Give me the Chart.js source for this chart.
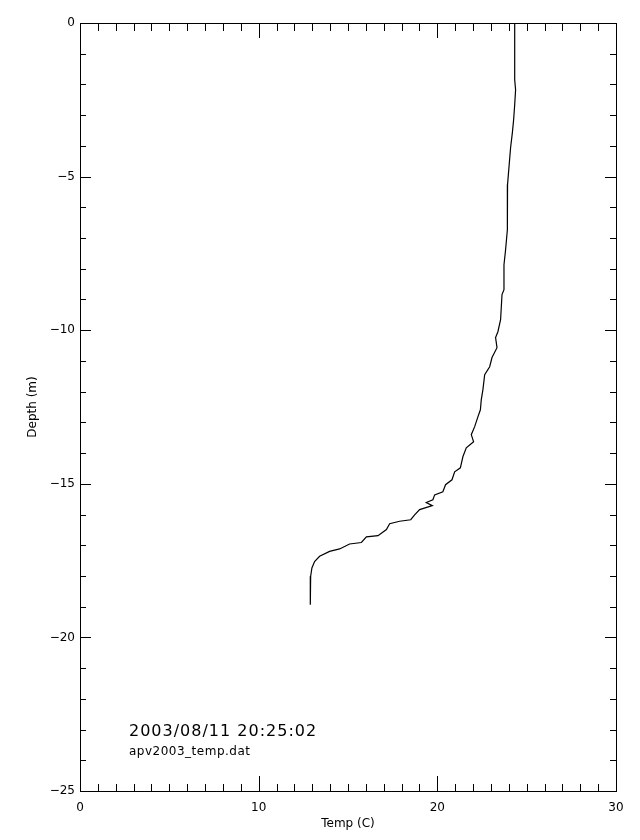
<!DOCTYPE html>
<html>
<head>
<meta charset="utf-8">
<script src="https://cdn.jsdelivr.net/npm/chart.js@4"></script>
<style>
  html, body { margin: 0; padding: 0; background: #fff; }
  canvas { display: block; }
</style>
</head>
<body>
<canvas id="chart" width="640" height="840"></canvas>
<script>
// temperature profile
const temps = [24.33, 24.33, 24.38, 24.33, 24.27, 24.20, 24.10, 24.03, 23.93, 23.92,
  23.92, 23.82, 23.73, 23.73, 23.62, 23.54, 23.39, 23.26, 23.34, 23.06,
  22.93, 22.65, 22.55, 22.46, 22.41, 22.27, 22.09, 21.90, 22.03, 21.62,
  21.43, 21.29, 20.97, 20.82, 20.46, 20.31, 19.85, 19.75, 19.38, 19.72,
  19.01, 18.73, 18.51, 17.89, 17.33, 17.15, 16.68, 16.03, 15.75, 15.09,
  14.53, 13.97, 13.41, 13.13, 12.98, 12.91, 12.89];
const depths = [0, -1.85, -2.17, -2.66, -3.15, -3.57, -4.06, -4.55, -5.26, -6.08,
  -6.73, -7.38, -7.87, -8.68, -8.84, -9.66, -10.05, -10.24, -10.57, -10.89,
  -11.19, -11.45, -11.94, -12.26, -12.59, -12.82, -13.14, -13.40, -13.63, -13.83,
  -14.12, -14.48, -14.61, -14.87, -15.03, -15.26, -15.36, -15.52, -15.61, -15.71,
  -15.84, -16.01, -16.17, -16.22, -16.30, -16.49, -16.69, -16.73, -16.91, -16.96,
  -17.12, -17.20, -17.36, -17.53, -17.74, -18.01, -18.94];

const xMajor = [0, 10, 20, 30];
const yMajor = [0, -5, -10, -15, -20, -25];
const stamp = '2003/08/11 20:25:02';
const fileName = 'apv2003_temp.dat';

const FONT = 'DejaVu Sans';

// box plus inward IDL-style ticks on all four sides
const frame = {
  id: 'frame',
  afterDraw(chart) {
    const { ctx, chartArea: a, scales: { x, y } } = chart;
    ctx.save();
    ctx.strokeStyle = '#000';
    ctx.lineWidth = 1;
    ctx.strokeRect(a.left + 0.5, a.top + 0.5, a.right - a.left, a.bottom - a.top);
    ctx.beginPath();
    for (let v = 0; v <= 30; v++) {
      const px = Math.round(x.getPixelForValue(v)) + 0.5;
      const bot = v % 10 === 0 ? 15 : 7;
      const top = v % 10 === 0 ? 15 : 8;
      ctx.moveTo(px, a.bottom); ctx.lineTo(px, a.bottom - bot);
      ctx.moveTo(px, a.top); ctx.lineTo(px, a.top + top);
    }
    for (let v = 0; v >= -25; v--) {
      const py = Math.round(y.getPixelForValue(v)) + 0.5;
      const len = v % 5 === 0 ? 11 : 6;
      ctx.moveTo(a.left, py); ctx.lineTo(a.left + len, py);
      ctx.moveTo(a.right, py); ctx.lineTo(a.right - len, py);
    }
    ctx.stroke();

    ctx.fillStyle = '#000';
    ctx.textBaseline = 'alphabetic';
    ctx.font = '16px ' + FONT;
    ctx.letterSpacing = '1px';
    ctx.fillText(stamp, a.left + 49, 736);
    ctx.font = '12px ' + FONT;
    ctx.letterSpacing = '0.5px';
    ctx.fillText(fileName, a.left + 49, 755);
    ctx.restore();
  }
};

new Chart(document.getElementById('chart'), {
  type: 'scatter',
  data: {
    datasets: [{
      data: temps.map((t, i) => ({ x: t, y: depths[i] })),
      showLine: true,
      borderColor: '#000',
      borderWidth: 1.2,
      pointRadius: 0,
      tension: 0
    }]
  },
  options: {
    responsive: false,
    animation: false,
    layout: { padding: { top: 23, right: 24, left: 0, bottom: 0 } },
    plugins: { legend: { display: false }, tooltip: { enabled: false } },
    scales: {
      x: {
        type: 'linear',
        min: 0,
        max: 30,
        afterFit(s) { s.height = 49; },
        afterBuildTicks(s) { s.ticks = xMajor.map(v => ({ value: v })); },
        grid: { display: false, drawTicks: false },
        border: { display: false },
        ticks: { color: '#000', padding: 10, font: { family: FONT, size: 12 } },
        title: {
          display: true,
          text: 'Temp (C)',
          color: '#000',
          font: { family: FONT, size: 12 },
          padding: { top: 0, bottom: 9 }
        }
      },
      y: {
        type: 'linear',
        min: -25,
        max: 0,
        afterFit(s) { s.width = 80; },
        afterBuildTicks(s) { s.ticks = yMajor.map(v => ({ value: v })); },
        grid: { display: false, drawTicks: false },
        border: { display: false },
        ticks: {
          color: '#000',
          padding: 5,
          font: { family: FONT, size: 12 },
          callback: v => String(v).replace('-', '\u2212')
        },
        title: {
          display: true,
          text: 'Depth (m)',
          color: '#000',
          font: { family: FONT, size: 12 },
          padding: { top: 26, bottom: 0 }
        }
      }
    }
  },
  plugins: [frame]
});
</script>
</body>
</html>
